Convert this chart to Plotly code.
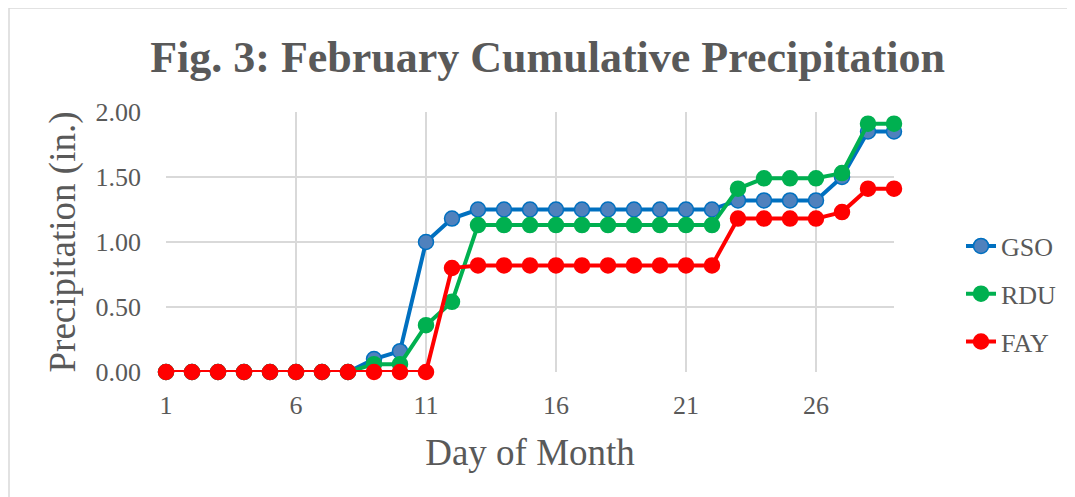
import plotly.graph_objects as go

days = list(range(1, 30))
gso = [0, 0, 0, 0, 0, 0, 0, 0, 0.10, 0.16, 1.00, 1.18, 1.25, 1.25, 1.25, 1.25, 1.25, 1.25, 1.25, 1.25, 1.25, 1.25,
       1.32, 1.32, 1.32, 1.32, 1.50, 1.85, 1.85]
rdu = [0, 0, 0, 0, 0, 0, 0, 0, 0.06, 0.06, 0.36, 0.54, 1.13, 1.13, 1.13, 1.13, 1.13, 1.13, 1.13, 1.13, 1.13, 1.13,
       1.41, 1.49, 1.49, 1.49, 1.53, 1.91, 1.91]
fay = [0, 0, 0, 0, 0, 0, 0, 0, 0, 0, 0, 0.80, 0.82, 0.82, 0.82, 0.82, 0.82, 0.82, 0.82, 0.82, 0.82, 0.82,
       1.18, 1.18, 1.18, 1.18, 1.23, 1.41, 1.41]
x_ticks = [1, 6, 11, 16, 21, 26]
y_ticks = [0, 0.5, 1.0, 1.5, 2.0]

FONT = "Liberation Serif"
GRAY = "#595959"
GRID = "#D9D9D9"

series = [
    ("GSO", gso, "#0070C0", "#4F81BD"),
    ("RDU", rdu, "#00B050", "#00B050"),
    ("FAY", fay, "#FF0000", "#FF0000"),
]

fig = go.Figure()
for name, vals, lc, mc in series:
    fig.add_trace(go.Scatter(
        x=days, y=vals, name=name, mode="lines+markers",
        line=dict(color=lc, width=4),
        marker=dict(size=15, color=mc, line=dict(color=lc, width=1.5)),
        cliponaxis=False, legendgroup=name,
    ))

OFF = 8  # page body margin
W, H = 1075 - OFF, 497 - OFF
L, T = 166 - OFF, 112 - OFF
pw, ph = 728, 260
R, B = W - L - pw, H - T - ph

fig.update_layout(
    width=W, height=H,
    margin=dict(l=L, r=R, t=T, b=B),
    paper_bgcolor="white", plot_bgcolor="white",
    font=dict(family=FONT, color=GRAY),
    title=dict(text="<b>Fig. 3: February Cumulative Precipitation</b>",
               font=dict(family=FONT, size=44, color=GRAY),
               x=(547.5 - OFF) / W, xanchor="center", xref="container",
               y=1 - (57 - OFF) / H, yanchor="middle", yref="container"),
    xaxis=dict(range=[1, 29], tickvals=x_ticks, showgrid=True, gridcolor=GRID, gridwidth=1.5,
               zeroline=False, showline=False, tickfont=dict(size=26, color=GRAY),
               ticklabelstandoff=15,
               title=dict(text="Day of Month", font=dict(size=37, color=GRAY), standoff=20)),
    yaxis=dict(range=[0, 2.0], tickvals=y_ticks, tickformat=".2f", showgrid=True, gridcolor=GRID,
               gridwidth=1.5, zeroline=False, showline=False, tickfont=dict(size=26, color=GRAY),
               ticklabelstandoff=24,
               title=dict(text="Precipitation (in.)", font=dict(size=37, color=GRAY), standoff=8)),
    legend=dict(x=(961 - OFF - L) / pw, xanchor="left", y=(H - B - (294 - OFF)) / ph, yanchor="middle",
                font=dict(size=26, color=GRAY), tracegroupgap=11, bgcolor="rgba(0,0,0,0)"),
    showlegend=True,
)

fig.add_shape(type="rect", xref="paper", yref="paper",
              x0=(1 - L) / pw, x1=(W + 20 - L) / pw, y0=-(B + 20) / ph, y1=(H - B - (8 - OFF)) / ph,
              line=dict(color=GRID, width=1.5), fillcolor="rgba(0,0,0,0)", layer="below")

fig.write_html("out.html")
